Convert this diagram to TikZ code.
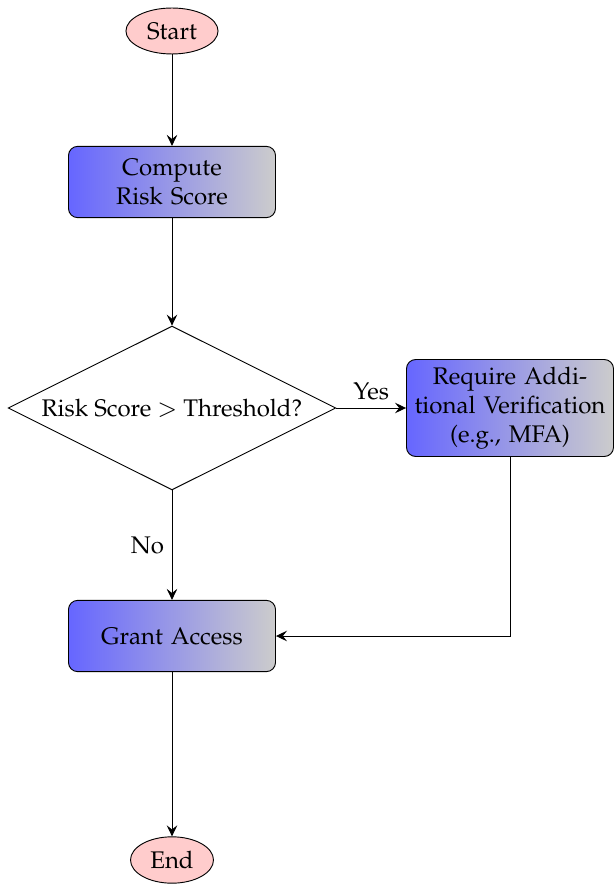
\documentclass[tikz,border=0pt]{standalone}
\usepackage[T1]{fontenc}
\usepackage{mathpazo}
\usetikzlibrary{shapes.geometric,arrows.meta}
\begin{document}
\begin{tikzpicture}[x=0.43478pt,y=-0.43478pt,
  every node/.style={font=\fontsize{10.45}{12.5}\selectfont},
  terminal/.style={ellipse, draw, fill=red!20},
  process/.style={rectangle, rounded corners, draw, left color=blue!60,
    right color=gray!40, minimum width=90pt, minimum height=31pt,
    text width=83pt, align=center},
  decision/.style={diamond, aspect=2, draw, inner sep=2.2pt},
  flow/.style={-{Stealth[length=4.8pt,width=4.6pt,inset=1.8pt]}}]
\useasboundingbox (0,0) rectangle (613,884);
% nodes
\node[terminal] (start) at (172,31) {Start};
\node[process] (risk) at (172,182) {Compute\\Risk Score};
\node[decision] (check) at (172,408) {Risk Score $>$ Threshold?};
\node[process] (verify) at (510,408) {Require Addi-\\tional Verification\\(e.g., MFA)};
\node[process] (grant) at (172,636) {Grant Access};
\node[terminal] (end) at (172,860) {End};
% connectors
\draw[flow] (start) -- (risk);
\draw[flow] (risk) -- (check);
\draw[flow] (check) -- node[above] {Yes} (verify);
\draw[flow] (check) -- node[left] {No} (grant);
\draw[flow] (verify) |- (grant);
\draw[flow] (grant) -- (end);
\end{tikzpicture}
\end{document}
